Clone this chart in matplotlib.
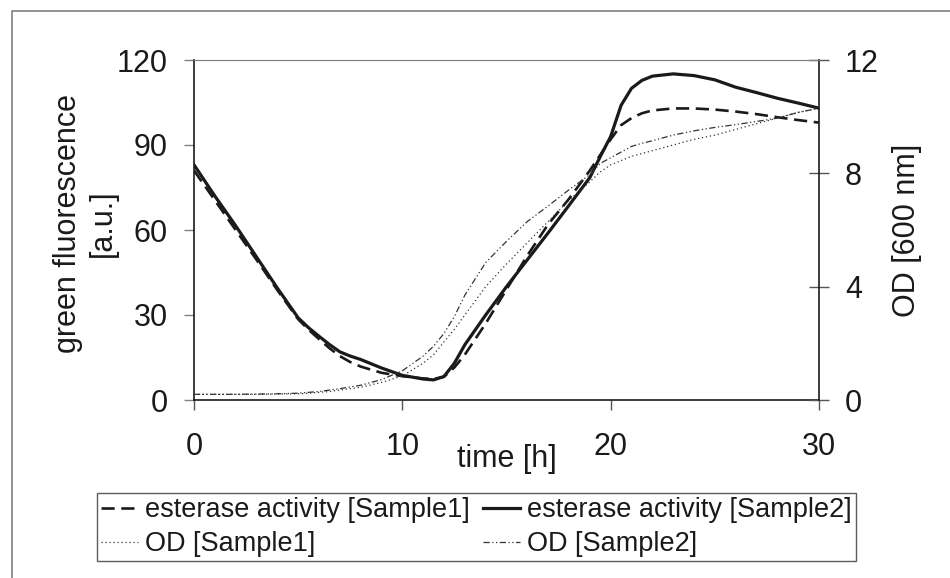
import numpy as np
import matplotlib
matplotlib.use('Agg')
import matplotlib.pyplot as plt
from matplotlib.lines import Line2D

plt.rcParams['font.family'] = ['Liberation Sans', 'DejaVu Sans']

# time points [h]
time_h = [0, 1, 2, 3, 4, 5, 5.5, 6, 6.5, 7, 7.5, 8, 9, 10, 11, 11.5, 12, 12.5, 13, 14,
          15, 16, 17, 18, 19, 19.5, 20, 20.5, 21, 21.5, 22, 23, 24, 25, 26, 27, 28,
          29, 30]

# esterase activity, green fluorescence [a.u.]
esterase_s1 = [81, 70.5, 60, 49.5, 38.8, 28.5, 24.8, 21.5, 18.3, 15.5, 13.4, 11.8, 9.6,
               8.4, 7.6, 7.4, 8.2, 11.5, 16, 27, 39, 51, 62, 71, 81, 86.5, 92, 97,
               99.5, 101.2, 102.2, 102.9, 102.9, 102.5, 101.8, 100.9, 99.8, 98.8, 97.9]
esterase_s2 = [83, 72, 61.5, 50.5, 39.5, 29, 25.5, 22.5, 19.6, 17, 15.5, 14.3, 11.3,
               8.7, 7.4, 7.1, 8.3, 13, 19.5, 30, 40, 49.5, 59, 68.7, 78.5, 85.9, 93,
               104, 110, 112.8, 114.3, 115.1, 114.5, 113, 110.4, 108.5, 106.5, 104.8, 103]

# OD [600 nm]
od_s1 = [0.2, 0.2, 0.2, 0.2, 0.21, 0.22, 0.24, 0.27, 0.3, 0.35, 0.4, 0.45, 0.62, 0.85,
         1.3, 1.6, 2.05, 2.5, 3.0, 4.0, 4.8, 5.55, 6.3, 7.05, 7.7, 8.05, 8.3, 8.45,
         8.6, 8.7, 8.8, 9.0, 9.2, 9.35, 9.55, 9.75, 9.95, 10.15, 10.3]
od_s2 = [0.2, 0.2, 0.2, 0.21, 0.22, 0.24, 0.27, 0.3, 0.35, 0.4, 0.46, 0.52, 0.72, 1.03,
         1.55, 1.9, 2.35, 2.95, 3.7, 4.85, 5.6, 6.3, 6.85, 7.42, 7.95, 8.35, 8.55,
         8.75, 8.95, 9.06, 9.15, 9.35, 9.5, 9.62, 9.72, 9.83, 9.95, 10.15, 10.3]

ink = '#1a1a1a'
grey = '#808080'

fig = plt.figure(figsize=(9.5, 5.78), dpi=100)
ax = fig.add_axes([194 / 950, 1 - 400 / 578, 625 / 950, 340 / 578])
ax2 = ax.twinx()

l1, = ax.plot(time_h, esterase_s1, color=ink, lw=1.9, dashes=(5, 2.5),
              label='esterase activity [Sample1]')
l2, = ax.plot(time_h, esterase_s2, color=ink, lw=2.3,
              label='esterase activity [Sample2]')
l3, = ax2.plot(time_h, od_s1, color='#333333', lw=0.9, dashes=(1, 2.2),
               label='OD [Sample1]')
l4, = ax2.plot(time_h, od_s2, color='#333333', lw=0.9, dashes=(5, 2, 1, 2, 1, 2),
               label='OD [Sample2]')

ax.set_xlim(0, 30)
ax.set_ylim(0, 120)
ax2.set_ylim(0, 12)
ax.set_xticks([0, 10, 20, 30])
ax.set_yticks([0, 30, 60, 90, 120])
ax2.set_yticks([0, 4, 8, 12])

for sp in ['left', 'bottom']:
    ax.spines[sp].set_color(ink)
    ax.spines[sp].set_linewidth(1.2)
ax.spines['right'].set_visible(False)
ax.spines['top'].set_color(grey)
ax2.spines['left'].set_visible(False)
ax2.spines['bottom'].set_visible(False)
ax2.spines['top'].set_color(grey)
ax2.spines['right'].set_color(ink)
ax2.spines['right'].set_linewidth(1.2)

ax.tick_params(axis='y', direction='out', length=7.2, width=1, color=grey,
               pad=11.5, labelsize=22, labelcolor=ink)
ax.tick_params(axis='x', direction='out', length=7.2, width=1, color='#555555',
               pad=16, labelsize=22, labelcolor=ink)
ax2.tick_params(axis='y', direction='inout', length=14.4, width=1, color='#555555',
                pad=11.5, labelsize=22, labelcolor=ink)

ax.set_xlabel('time [h]', fontsize=22, color=ink)
ax.xaxis.set_label_coords(0.5, -0.13)
ax.set_ylabel('green fluorescence\n[a.u.]', fontsize=22, color=ink)
ax.yaxis.set_label_coords(-0.122, 0.52)
ax2.set_ylabel('OD [600 nm]', fontsize=22, color=ink)
ax2.yaxis.set_label_coords(1.117, 0.5)

leg = fig.legend(handles=[l1, l3, l2, l4], ncol=2, loc='upper left',
                 bbox_to_anchor=(97 / 950, 1 - 493 / 578), borderaxespad=0,
                 fontsize=19.5, frameon=True, fancybox=False, handlelength=1.37,
                 handletextpad=0.26, columnspacing=0.48, borderpad=0.15,
                 labelspacing=0.3)
leg.get_frame().set_edgecolor('#333333')
leg.get_frame().set_linewidth(1)
for t in leg.get_texts():
    t.set_color(ink)

# outer grey frame
fx = 12 / 950
fy = 1 - 10.7 / 578
fig.add_artist(Line2D([fx, fx, 1], [0, fy, fy], transform=fig.transFigure,
                      color=grey, lw=1.2))

plt.savefig('out.png', dpi=100)
